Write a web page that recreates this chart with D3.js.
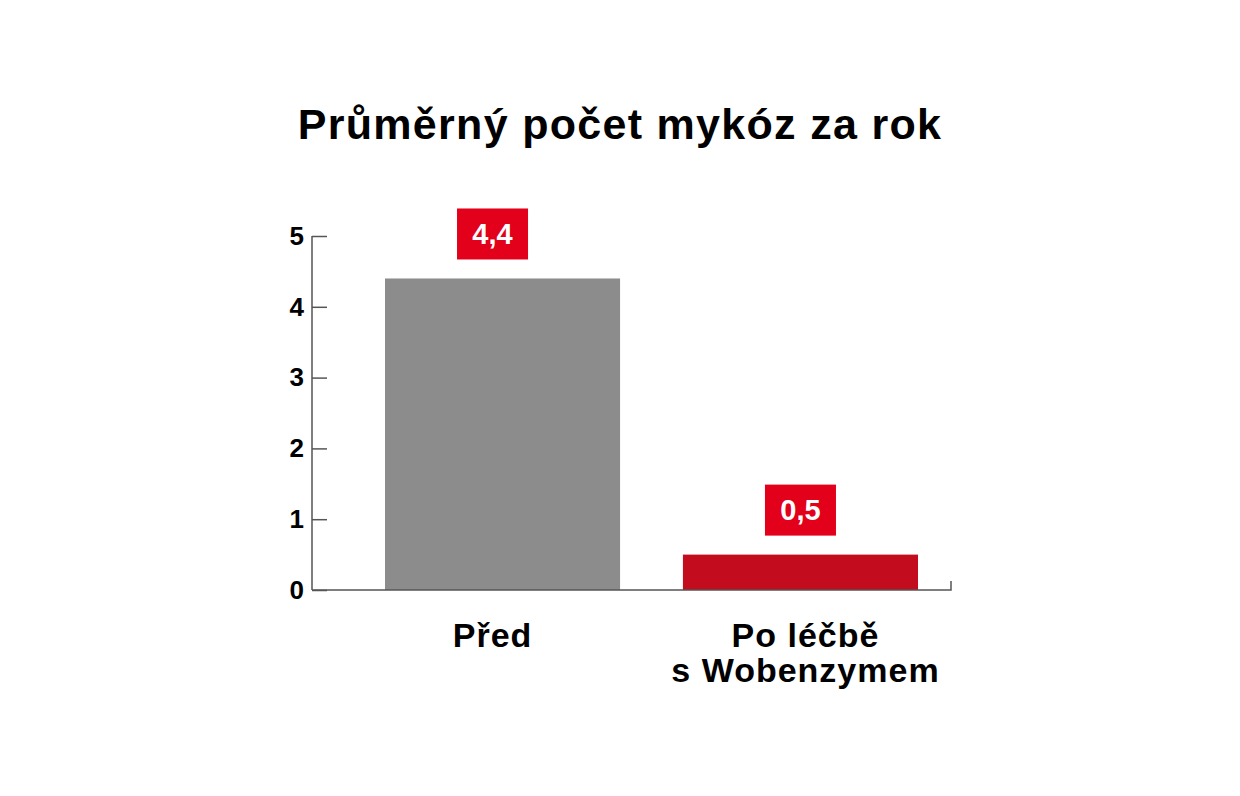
<!DOCTYPE html>
<html>
<head>
<meta charset="utf-8">
<script src="https://cdn.jsdelivr.net/npm/d3@7"></script>
<style>
body { margin: 0; background: #fff; }
text { font-family: "Liberation Sans", Arial, sans-serif; font-weight: bold; }
</style>
</head>
<body>
<div id="container"></div>
<script>
// data
var categories = ["Před", "Po léčbě\ns Wobenzymem"];
var values = [4.4, 0.5];
var valueLabels = ["4,4", "0,5"];
var yTicks = [0, 1, 2, 3, 4, 5];
var title = "Průměrný počet mykóz za rok";

(function()
{
	var width = 1240, height = 796;
	var barColors = ["#8c8c8c", "#c30d1f"];
	var boxColor = "#e2001a";
	var labelShift = [-10, 5]; // text under/over bars sits a bit off centre

	var svg = d3.select("#container").append("svg")
		.attr("width", width)
		.attr("height", height);

	// title
	svg.append("text")
		.attr("x", 620)
		.attr("y", 139)
		.attr("text-anchor", "middle")
		.style("font-size", "43px")
		.style("letter-spacing", "1.3px")
		.text(title);

	var y = d3.scaleLinear().domain([0, 5]).range([590, 236]);
	var x = d3.scaleBand().domain(categories).range([312, 991]).paddingInner(0.211).paddingOuter(0.245);

	// y axis
	var yAxis = svg.append("g")
		.attr("transform", "translate(312,0)")
		.call(d3.axisRight(y).tickValues(yTicks).tickSize(15).tickFormat(d3.format("d")));
	yAxis.select(".domain").attr("stroke", "#555").attr("stroke-width", 1.5).attr("d", "M0," + y(5) + "V" + y(0));
	yAxis.selectAll(".tick line").attr("stroke", "#555").attr("stroke-width", 1.5);
	yAxis.selectAll(".tick text")
		.attr("x", -8)
		.attr("text-anchor", "end")
		.attr("fill", "#000")
		.style("font-size", "26px")
		.style("font-family", "'Liberation Sans', Arial, sans-serif")
		.style("font-weight", "bold");

	// bars
	svg.selectAll(".bar")
		.data(values)
		.enter().append("rect")
		.attr("class", "bar")
		.attr("x", function(d, i) { return x(categories[i]); })
		.attr("y", function(d) { return y(d); })
		.attr("width", x.bandwidth())
		.attr("height", function(d) { return y(0) - y(d); })
		.attr("fill", function(d, i) { return barColors[i]; });

	// baseline
	svg.append("path")
		.attr("d", "M312," + y(0) + "H951V" + (y(0) - 9))
		.attr("fill", "none")
		.attr("stroke", "#555")
		.attr("stroke-width", 1.5);

	// value boxes
	var boxW = 71, boxH = 51;
	values.forEach(function(v, i)
	{
		var cx = x(categories[i]) + x.bandwidth() / 2 + (i == 0 ? labelShift[0] : 0);
		var top = y(v) - 70;
		svg.append("rect")
			.attr("x", cx - boxW / 2)
			.attr("y", top)
			.attr("width", boxW)
			.attr("height", boxH)
			.attr("fill", boxColor);
		svg.append("text")
			.attr("x", cx)
			.attr("y", top + boxH / 2 + 10)
			.attr("text-anchor", "middle")
			.attr("fill", "#fff")
			.style("font-size", "29px")
			.text(valueLabels[i]);
	});

	// category labels
	categories.forEach(function(c, i)
	{
		var cx = x(c) + x.bandwidth() / 2 + labelShift[i];
		var t = svg.append("text")
			.attr("x", cx)
			.attr("y", 647)
			.attr("text-anchor", "middle")
			.style("font-size", "34px")
			.style("letter-spacing", "1px");
		c.split("\n").forEach(function(line, j)
		{
			t.append("tspan").attr("x", cx).attr("dy", j == 0 ? 0 : 35).text(line);
		});
	});
})();
</script>
</body>
</html>
